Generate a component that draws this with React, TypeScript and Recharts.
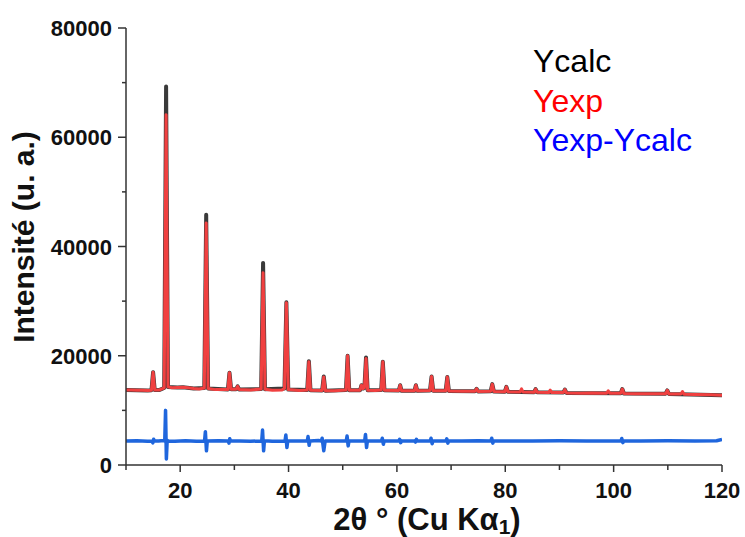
import { LineChart, Line, XAxis, YAxis } from "recharts";

// 2θ (deg) / intensity pairs
const yexpPoints: [number, number][] = [
  [10, 13750], [11, 13720], [12, 13700], [13, 13680], [14, 13660], [14.7, 13700], [15.0, 17000], [15.3, 13720],
  [16.2, 13750], [17.05, 14100], [17.4, 64100], [17.75, 14300], [18.5, 14150], [19.5, 14200], [20.5, 14250],
  [21.5, 14150], [22.5, 14000], [23.5, 13900], [24.45, 14100], [24.8, 44300], [25.15, 14000], [26.5, 13800],
  [28.8, 13800], [29.1, 16900], [29.4, 13850], [30.3, 13850], [30.6, 14400], [30.9, 13800], [33, 13750],
  [34.95, 13900], [35.3, 35200], [35.65, 13850], [37, 13700], [38.8, 13750], [39.25, 14000], [39.6, 29700],
  [39.95, 13800], [42, 13650], [43.45, 13750], [43.75, 18900], [44.05, 13700], [46.2, 13650], [46.5, 16100],
  [46.8, 13600], [48.5, 13600], [50.6, 13750], [50.9, 20000], [51.2, 13700], [53.2, 13700], [53.45, 14600],
  [53.75, 14000], [54.0, 14100], [54.3, 19500], [54.6, 13700], [56, 13650], [57.1, 13750], [57.4, 18900],
  [57.7, 13700], [60.35, 13650], [60.6, 14600], [60.85, 13600], [63.25, 13600], [63.5, 14600], [63.75, 13600],
  [66.1, 13650], [66.4, 16200], [66.7, 13600], [69.0, 13600], [69.3, 16100], [69.6, 13550], [72, 13500],
  [74.4, 13500], [74.7, 13950], [75.0, 13450], [77.3, 13500], [77.6, 14800], [77.9, 13450], [79.9, 13400],
  [80.2, 14300], [80.5, 13400], [82.7, 13350], [83.0, 13950], [83.3, 13350], [85.3, 13300], [85.6, 13900],
  [85.9, 13300], [88.0, 13250], [88.3, 13700], [88.6, 13250], [90.7, 13250], [91.0, 13800], [91.3, 13200],
  [94, 13150], [96, 13200], [98.7, 13150], [99.0, 13600], [99.3, 13150], [101.3, 13150], [101.6, 13900],
  [101.9, 13100], [104, 13050], [107, 13050], [109.6, 13050], [109.9, 13650], [110.2, 13000], [112.4, 13000],
  [112.7, 13450], [113.0, 12950], [115, 12900], [118, 12850], [120, 12750],
];

const ycalcPoints: [number, number][] = [
  [10, 13750], [12, 13700], [14, 13660], [14.7, 13700], [15.0, 17000], [15.3, 13720], [16.2, 13750],
  [17.05, 14100], [17.4, 69300], [17.75, 14300], [19.5, 14200], [20.5, 14250], [22.5, 14000], [24.45, 14100],
  [24.8, 45800], [25.15, 14000], [28.8, 13800], [29.1, 16900], [29.4, 13850], [30.3, 13850], [30.6, 14400],
  [30.9, 13800], [34.95, 13900], [35.3, 37000], [35.65, 13850], [39.25, 14000], [39.6, 29800], [39.95, 13800],
  [43.45, 13750], [43.75, 19000], [44.05, 13700], [46.2, 13650], [46.5, 16200], [46.8, 13600], [50.6, 13750],
  [50.9, 20000], [51.2, 13700], [53.2, 13700], [53.45, 14600], [53.75, 14000], [54.0, 14100], [54.3, 19700],
  [54.6, 13700], [57.1, 13750], [57.4, 18900], [57.7, 13700], [60.35, 13650], [60.6, 14600], [60.85, 13600],
  [63.25, 13600], [63.5, 14600], [63.75, 13600], [66.1, 13650], [66.4, 16200], [66.7, 13600], [69.0, 13600],
  [69.3, 16100], [69.6, 13550], [74.4, 13500], [74.7, 13950], [75.0, 13450], [77.3, 13500], [77.6, 14800],
  [77.9, 13450], [79.9, 13400], [80.2, 14300], [80.5, 13400], [85.3, 13300], [85.6, 13900], [85.9, 13300],
  [90.7, 13250], [91.0, 13800], [91.3, 13200], [101.3, 13150], [101.6, 13900], [101.9, 13100], [109.6, 13050],
  [109.9, 13650], [110.2, 13000], [120, 12750],
];

const diffPoints: [number, number][] = [
  [10, 4400], [12, 4450], [14, 4350], [14.8, 4400], [14.95, 4050], [15.1, 4700], [15.25, 4400], [16, 4400],
  [17.0, 4500], [17.15, 4400], [17.3, 10000], [17.45, 1100], [17.6, 4500], [17.8, 4400], [19, 4350], [21, 4450],
  [23, 4350], [24.5, 4400], [24.65, 6100], [24.85, 2600], [25.0, 4400], [27, 4450], [28.9, 4400], [29.0, 4000],
  [29.15, 4800], [29.3, 4400], [31, 4400], [33, 4350], [35.05, 4400], [35.2, 6400], [35.4, 2600], [35.55, 4450],
  [37, 4350], [39.35, 4400], [39.5, 5500], [39.7, 3200], [39.85, 4400], [42, 4400], [43.45, 4400], [43.6, 5200],
  [43.8, 3600], [43.95, 4400], [45.5, 4500], [46.05, 4400], [46.2, 4900], [46.5, 2600], [46.75, 4400], [48, 4400],
  [50.65, 4400], [50.8, 5300], [51.0, 3500], [51.15, 4400], [53, 4400], [54.05, 4400], [54.2, 5600], [54.4, 3200],
  [54.55, 4450], [57.15, 4400], [57.3, 4900], [57.5, 3800], [57.65, 4400], [60.35, 4400], [60.5, 4700],
  [60.7, 4100], [60.85, 4400], [63.25, 4400], [63.4, 4200], [63.6, 4700], [63.75, 4400], [66.15, 4400],
  [66.3, 4900], [66.5, 3900], [66.65, 4400], [69.05, 4400], [69.2, 4800], [69.4, 4000], [69.55, 4400], [72, 4400],
  [75, 4450], [77.35, 4400], [77.5, 4900], [77.7, 4000], [77.85, 4400], [80, 4400], [85, 4400], [90, 4450],
  [95, 4400], [101.35, 4400], [101.5, 4850], [101.7, 4100], [101.85, 4400], [105, 4400], [110, 4450], [115, 4400],
  [119, 4450], [120, 4700],
];

const xTicks = [10, 20, 30, 40, 50, 60, 70, 80, 90, 100, 110, 120];
const yTicks = [0, 10000, 20000, 30000, 40000, 50000, 60000, 70000, 80000];

const toRows = (pts: [number, number][]) => pts.map(([t, v]) => ({ t, v }));

const FONT = "'Liberation Sans', Arial, sans-serif";
const AXIS = "#333";

function XTick(props: any) {
  const { x, y, payload } = props;
  const major = payload.value % 20 === 0;
  return (
    <g>
      <line x1={x} x2={x} y1={y} y2={y + (major ? 7 : 5)} stroke={AXIS} strokeWidth={1.5} />
      {major && (
        <text x={x} y={y + 33} textAnchor="middle" fontFamily={FONT} fontWeight="bold" fontSize={22} fill="#111">
          {payload.value}
        </text>
      )}
    </g>
  );
}

function YTick(props: any) {
  const { x, y, payload } = props;
  const major = payload.value % 20000 === 0;
  return (
    <g>
      <line x1={x - (major ? 8 : 4)} x2={x} y1={y} y2={y} stroke={AXIS} strokeWidth={1.5} />
      {major && (
        <text x={x - 14} y={y + 8} textAnchor="end" fontFamily={FONT} fontWeight="bold" fontSize={22} fill="#111">
          {payload.value}
        </text>
      )}
    </g>
  );
}

export default function App() {
  // placed at the page corner (outside the body margin) so it fills the 745x537 page
  return (
    <div style={{ position: "absolute", left: 0, top: 0, width: 745, height: 537 }}>
      <LineChart width={745} height={537} margin={{ top: 28, right: 23, bottom: 0, left: 0 }}>
        <XAxis
          dataKey="t"
          type="number"
          domain={[10, 120]}
          ticks={xTicks}
          interval={0}
          allowDataOverflow
          height={72}
          tickSize={0}
          tickMargin={0}
          tickLine={false}
          tick={<XTick />}
          axisLine={{ stroke: AXIS, strokeWidth: 1.5 }}
        />
        <XAxis
          xAxisId="top"
          orientation="top"
          type="number"
          domain={[10, 120]}
          height={0}
          tick={false}
          tickLine={false}
          axisLine={{ stroke: AXIS, strokeWidth: 1.5 }}
        />
        <YAxis
          type="number"
          domain={[0, 80000]}
          ticks={yTicks}
          interval={0}
          allowDataOverflow
          width={126}
          tickSize={0}
          tickMargin={0}
          tickLine={false}
          tick={<YTick />}
          axisLine={{ stroke: AXIS, strokeWidth: 1.5 }}
        />
        <YAxis
          yAxisId="right"
          orientation="right"
          domain={[0, 80000]}
          width={0}
          tick={false}
          tickLine={false}
          axisLine={{ stroke: AXIS, strokeWidth: 1.5 }}
        />
        <Line
          data={toRows(ycalcPoints)}
          dataKey="v"
          type="linear"
          stroke="#3a3a3a"
          strokeWidth={4}
          dot={false}
          strokeLinejoin="round"
          isAnimationActive={false}
        />
        <Line
          data={toRows(yexpPoints)}
          dataKey="v"
          type="linear"
          stroke="#f04040"
          strokeWidth={3}
          dot={false}
          strokeLinejoin="round"
          isAnimationActive={false}
        />
        <Line
          data={toRows(diffPoints)}
          dataKey="v"
          type="linear"
          stroke="#1f66dd"
          strokeWidth={3.5}
          dot={false}
          strokeLinejoin="round"
          isAnimationActive={false}
        />
      </LineChart>
      <svg
        width={745}
        height={537}
        style={{ position: "absolute", left: 0, top: 0, pointerEvents: "none" }}
      >
        <text
          transform="translate(33.5, 237) rotate(-90)"
          textAnchor="middle"
          fontFamily={FONT}
          fontWeight="bold"
          fontSize={30}
          fill="#111"
        >
          Intensité (u. a.)
        </text>
        <text x={427} y={530} textAnchor="middle" fontFamily={FONT} fontWeight="bold" fontSize={31} fill="#111">
          2θ ° (Cu Kα<tspan fontSize={21} dy={4}>1</tspan><tspan dy={-4}>)</tspan>
        </text>
        <text x={533} y={72} fontFamily={FONT} fontSize={32} fill="#000">Ycalc</text>
        <text x={533} y={112} fontFamily={FONT} fontSize={32} fill="#ff0000">Yexp</text>
        <text x={533} y={151} fontFamily={FONT} fontSize={32} fill="#0000ff">Yexp-Ycalc</text>
      </svg>
    </div>
  );
}
